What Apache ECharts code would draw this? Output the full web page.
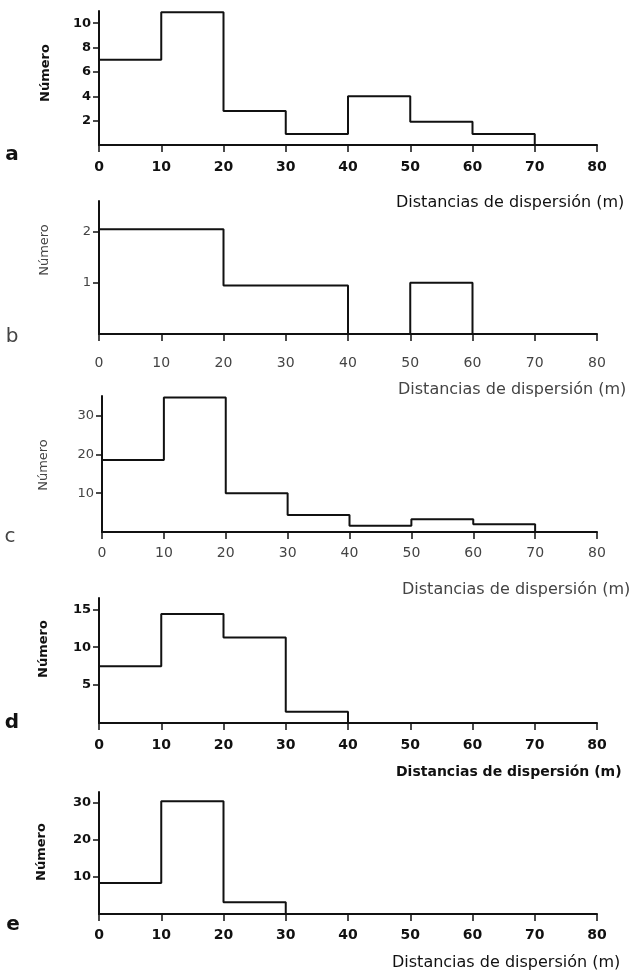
<!DOCTYPE html>
<html>
<head>
<meta charset="utf-8">
<script src="https://cdn.jsdelivr.net/npm/echarts@6/dist/echarts.min.js"></script>
<style>
html,body{margin:0;padding:0;background:#fff;}
#chart{width:631px;height:977px;}
</style>
</head>
<body>
<div id="chart"></div>
<script>
// ---- Data ----
const binEdges = [0, 10, 20, 30, 40, 50, 60, 70, 80];
const xTickLabels = [0, 10, 20, 30, 40, 50, 60, 70, 80];
const countsA = [7, 10.9, 2.8, 0.9, 4, 1.9, 0.9, 0];
const countsB = [2.05, 2.05, 0.95, 0.95, 0, 1, 0, 0];
const countsC = [18.5, 34.6, 10, 4.4, 1.6, 3.3, 2, 0];
const countsD = [7.5, 14.4, 11.3, 1.5, 0, 0, 0, 0];
const countsE = [8.4, 30.5, 3.2, 0, 0, 0, 0, 0];
const yTicksA = [2, 4, 6, 8, 10];
const yTicksB = [1, 2];
const yTicksC = [10, 20, 30];
const yTicksD = [5, 10, 15];
const yTicksE = [10, 20, 30];
const panelLetters = ['a', 'b', 'c', 'd', 'e'];
const xAxisTitle = 'Distancias de dispersión (m)';
const yAxisTitle = 'Número';

// ---- Layout / style ----
const W = 631, H = 977;
const panels = [
  {counts: countsA, ticks: yTicksA, yMax: 11,  left: 99,  right: 597, top: 11,  base: 145, margin: 15, col: '#111', bold: true,  letter: [12, 155], ytitle: [46, 73],  xtitle: [396, 203], tsize: 16, tbold: false},
  {counts: countsB, ticks: yTicksB, yMax: 2.6, left: 99,  right: 597, top: 201, base: 334, margin: 22, col: '#444', bold: false, letter: [12, 337], ytitle: [45, 250], xtitle: [398, 390], tsize: 16, tbold: false},
  {counts: countsC, ticks: yTicksC, yMax: 35,  left: 102, right: 597, top: 396, base: 532, margin: 14, col: '#444', bold: false, letter: [10, 537], ytitle: [44, 465], xtitle: [402, 590], tsize: 16, tbold: false},
  {counts: countsD, ticks: yTicksD, yMax: 16.5,left: 99,  right: 597, top: 598, base: 723, margin: 15, col: '#111', bold: true,  letter: [12, 723], ytitle: [44, 649], xtitle: [396, 772], tsize: 14, tbold: true},
  {counts: countsE, ticks: yTicksE, yMax: 33,  left: 99,  right: 597, top: 792, base: 914, margin: 14, col: '#111', bold: true,  letter: [13, 925], ytitle: [42, 852], xtitle: [392, 963], tsize: 16, tbold: false}
];
const FONT = 'DejaVu Sans';
const lineCol = '#111';

const grid = [], xAxis = [], yAxis = [], series = [], graphic = [];
panels.forEach((p, i) => {
  grid.push({left: p.left, width: p.right - p.left, top: p.top, height: p.base - p.top, containLabel: false});
  xAxis.push({
    type: 'value', gridIndex: i, min: 0, max: 80, interval: 10,
    axisLine: {show: true, onZero: false, lineStyle: {color: lineCol, width: 2}},
    axisTick: {show: true, inside: false, length: 7, lineStyle: {color: lineCol, width: 1.5}},
    axisLabel: {show: true, margin: p.margin, color: p.col, fontFamily: FONT, fontSize: 14,
      fontWeight: p.bold ? 'bold' : 'normal', customValues: xTickLabels},
    splitLine: {show: false}
  });
  yAxis.push({
    type: 'value', gridIndex: i, min: 0, max: p.yMax,
    axisLine: {show: true, onZero: false, lineStyle: {color: lineCol, width: 2}},
    axisTick: {show: true, inside: false, length: 6, lineStyle: {color: lineCol, width: 1.5}, customValues: p.ticks},
    axisLabel: {show: true, margin: 8, color: p.col, fontFamily: FONT, fontSize: 13,
      fontWeight: p.bold ? 'bold' : 'normal', customValues: p.ticks},
    splitLine: {show: false}
  });
  const data = binEdges.map((x, k) => [x, p.counts[Math.min(k, p.counts.length - 1)]]);
  series.push({
    type: 'line', xAxisIndex: i, yAxisIndex: i, step: 'end', data: data,
    symbol: 'none', lineStyle: {color: lineCol, width: 2}, clip: false, silent: true, animation: false
  });
  graphic.push({type: 'text', x: p.letter[0], y: p.letter[1],
    style: {text: panelLetters[i], font: (p.bold ? 'bold ' : '') + '20px "' + FONT + '"', fill: p.col, align: 'center', verticalAlign: 'middle'}});
  graphic.push({type: 'text', x: p.ytitle[0], y: p.ytitle[1], rotation: Math.PI / 2,
    style: {text: yAxisTitle, font: (p.bold ? 'bold ' : '') + '13px "' + FONT + '"', fill: p.col, align: 'center', verticalAlign: 'middle'}});
  graphic.push({type: 'text', x: p.xtitle[0], y: p.xtitle[1],
    style: {text: xAxisTitle, font: (p.tbold ? 'bold ' : '') + p.tsize + 'px "' + FONT + '"', fill: p.col, align: 'left', verticalAlign: 'middle'}});
});

const chart = echarts.init(document.getElementById('chart'), null, {renderer: 'canvas', width: W, height: H});
chart.setOption({
  backgroundColor: '#ffffff',
  animation: false,
  grid: grid, xAxis: xAxis, yAxis: yAxis, series: series, graphic: graphic
});
</script>
</body>
</html>
